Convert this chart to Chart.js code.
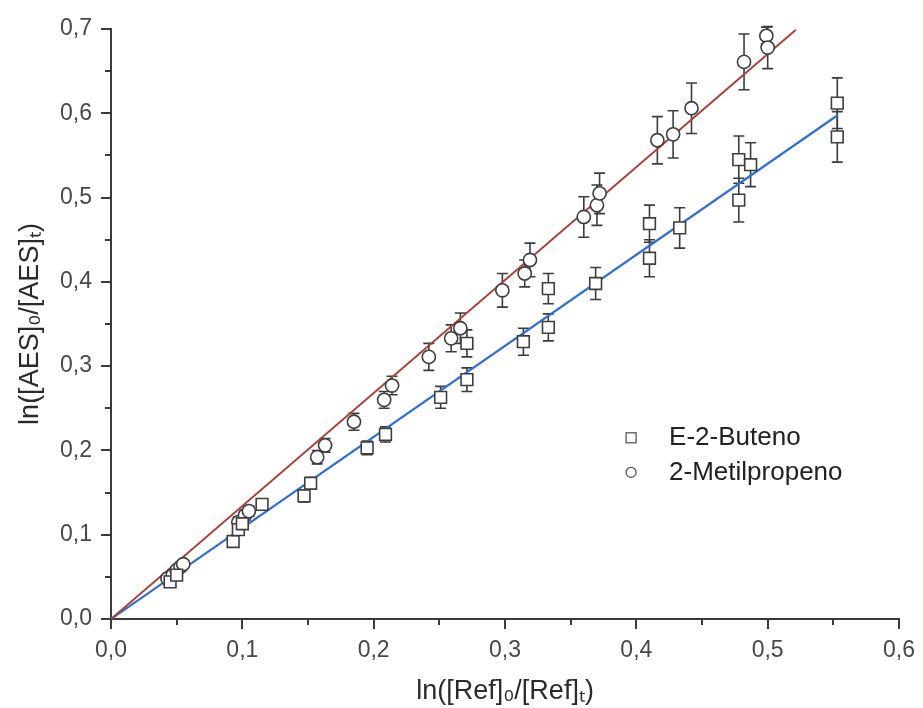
<!DOCTYPE html>
<html>
<head>
<meta charset="utf-8">
<script src="https://cdn.jsdelivr.net/npm/chart.js@4.4.1/dist/chart.umd.min.js"></script>
<style>
  html, body { margin: 0; padding: 0; background: #fff; }
  #wrap { width: 923px; height: 708px; }
</style>
</head>
<body>
<div id="wrap"><canvas id="c" width="923" height="708"></canvas></div>
<script>
// E-2-Buteno: x = ln([Ref]0/[Ref]t), y = ln([AES]0/[AES]t), e = error
const buteneX = [0.045, 0.050, 0.093, 0.097, 0.100, 0.115, 0.147, 0.152, 0.195, 0.209,
                 0.251, 0.271, 0.271, 0.314, 0.333, 0.333, 0.369, 0.410, 0.410, 0.433,
                 0.478, 0.478, 0.487, 0.553, 0.553];
const buteneY = [0.044, 0.052, 0.092, 0.106, 0.113, 0.136, 0.146, 0.161, 0.203, 0.219,
                 0.263, 0.284, 0.327, 0.329, 0.346, 0.392, 0.398, 0.428, 0.469, 0.464,
                 0.497, 0.545, 0.539, 0.572, 0.612];
const buteneErr = [0.004, 0.004, 0.005, 0.005, 0.005, 0.006, 0.007, 0.007, 0.008, 0.009,
                   0.013, 0.014, 0.016, 0.016, 0.016, 0.018, 0.019, 0.022, 0.022, 0.024,
                   0.026, 0.028, 0.026, 0.030, 0.030];

// 2-Metilpropeno
const methylX = [0.043, 0.047, 0.050, 0.053, 0.055, 0.097, 0.102, 0.105, 0.157, 0.163,
                 0.185, 0.208, 0.214, 0.242, 0.259, 0.266, 0.298, 0.315, 0.319, 0.360,
                 0.370, 0.372, 0.416, 0.428, 0.442, 0.482, 0.499, 0.500];
const methylY = [0.048, 0.052, 0.058, 0.062, 0.065, 0.115, 0.123, 0.128, 0.192, 0.206,
                 0.234, 0.260, 0.277, 0.311, 0.333, 0.345, 0.390, 0.410, 0.426, 0.477,
                 0.491, 0.505, 0.568, 0.575, 0.606, 0.661, 0.692, 0.678];
const methylErr = [0.004, 0.004, 0.004, 0.004, 0.004, 0.006, 0.006, 0.006, 0.008, 0.008,
                   0.010, 0.010, 0.011, 0.016, 0.016, 0.018, 0.020, 0.016, 0.020, 0.024,
                   0.024, 0.024, 0.028, 0.028, 0.030, 0.033, 0.010, 0.025];

// Linear fits through the origin (start and end points)
const buteneFitX = [0, 0.5535];
const buteneFitY = [0, 0.598];
const methylFitX = [0, 0.5215];
const methylFitY = [0, 0.699];

const seriesNames = ['E-2-Buteno', '2-Metilpropeno'];
const xTicks = [0, 0.1, 0.2, 0.3, 0.4, 0.5, 0.6];
const yTicks = [0, 0.1, 0.2, 0.3, 0.4, 0.5, 0.6, 0.7];

const toPoints = (xs, ys, es) => xs.map((x, i) => ({ x: x, y: ys[i], e: es ? es[i] : 0 }));
const fmt = v => v.toFixed(1).replace('.', ',');

const INK = '#3a3a3a';
const LABEL = '#474747';
const FONT = "'Liberation Sans', Arial, sans-serif";

// Vertical error bars with caps, drawn beneath the markers
const errorBars = {
  id: 'errorBars',
  beforeDatasetsDraw(chart) {
    const ctx = chart.ctx;
    const xs = chart.scales.x, ys = chart.scales.y;
    ctx.save();
    ctx.strokeStyle = '#3c3c3c';
    ctx.lineWidth = 1.6;
    chart.data.datasets.forEach(ds => {
      if (!ds.errorBars) return;
      ds.data.forEach(p => {
        if (!p.e) return;
        const px = xs.getPixelForValue(p.x);
        const top = ys.getPixelForValue(p.y + p.e);
        const bot = ys.getPixelForValue(p.y - p.e);
        const cap = 5.5;
        ctx.beginPath();
        ctx.moveTo(px, top); ctx.lineTo(px, bot);
        ctx.moveTo(px - cap, top); ctx.lineTo(px + cap, top);
        ctx.moveTo(px - cap, bot); ctx.lineTo(px + cap, bot);
        ctx.stroke();
      });
    });
    ctx.restore();
  }
};

// Minor ticks halfway between labelled ticks on both axes
const minorTicks = {
  id: 'minorTicks',
  afterDraw(chart) {
    const ctx = chart.ctx;
    const xs = chart.scales.x, ys = chart.scales.y;
    ctx.save();
    ctx.strokeStyle = INK;
    ctx.lineWidth = 2;
    ctx.beginPath();
    for (let i = 0; i < xTicks.length - 1; i++) {
      const v = (xTicks[i] + xTicks[i + 1]) / 2;
      const px = Math.round(xs.getPixelForValue(v));
      ctx.moveTo(px, ys.bottom); ctx.lineTo(px, ys.bottom + 6);
    }
    for (let i = 0; i < yTicks.length - 1; i++) {
      const v = (yTicks[i] + yTicks[i + 1]) / 2;
      const py = Math.round(ys.getPixelForValue(v));
      ctx.moveTo(xs.left, py); ctx.lineTo(xs.left - 6, py);
    }
    ctx.stroke();
    ctx.restore();
  }
};

// Legend placed inside the plot, lower right
const insideLegend = {
  id: 'insideLegend',
  afterDraw(chart) {
    const ctx = chart.ctx;
    const xs = chart.scales.x, ys = chart.scales.y;
    const x0 = xs.getPixelForValue(0.396);
    const rows = [ys.getPixelForValue(0.215), ys.getPixelForValue(0.174)];
    ctx.save();
    ctx.strokeStyle = '#555';
    ctx.lineWidth = 1.3;
    // square
    ctx.strokeRect(x0 - 5, rows[0] - 5, 10, 10);
    // circle
    ctx.beginPath();
    ctx.arc(x0, rows[1], 5, 0, Math.PI * 2);
    ctx.stroke();
    ctx.fillStyle = '#222';
    ctx.font = '26px ' + FONT;
    ctx.textBaseline = 'middle';
    ctx.textAlign = 'left';
    ctx.fillText(seriesNames[0], x0 + 38, rows[0]);
    ctx.fillText(seriesNames[1], x0 + 38, rows[1]);
    ctx.restore();
  }
};

new Chart(document.getElementById('c'), {
  type: 'scatter',
  data: {
    datasets: [
      {
        label: seriesNames[0],
        data: toPoints(buteneX, buteneY, buteneErr),
        errorBars: true,
        pointStyle: 'rect',
        pointRadius: 8.3,
        borderWidth: 1.6,
        borderColor: '#3e3e3e',
        backgroundColor: '#ffffff'
      },
      {
        label: seriesNames[1],
        data: toPoints(methylX, methylY, methylErr),
        errorBars: true,
        pointStyle: 'circle',
        pointRadius: 6.6,
        borderWidth: 1.6,
        borderColor: '#3e3e3e',
        backgroundColor: '#ffffff'
      },
      {
        type: 'line',
        label: 'fit ' + seriesNames[1],
        data: toPoints(methylFitX, methylFitY),
        borderColor: '#a9433a',
        borderWidth: 2,
        pointRadius: 0,
        fill: false
      },
      {
        type: 'line',
        label: 'fit ' + seriesNames[0],
        data: toPoints(buteneFitX, buteneFitY),
        borderColor: '#2f6fd3',
        borderWidth: 2.2,
        pointRadius: 0,
        fill: false
      }
    ]
  },
  options: {
    responsive: false,
    animation: false,
    layout: { padding: { left: 0, right: 20, top: 29, bottom: 0 } },
    plugins: {
      legend: { display: false },
      tooltip: { enabled: false }
    },
    scales: {
      x: {
        type: 'linear',
        min: 0, max: 0.6,
        afterFit: s => { s.height = 89; },
        afterBuildTicks: s => { s.ticks = xTicks.map(v => ({ value: v })); },
        ticks: {
          callback: v => fmt(v),
          color: LABEL,
          font: { family: FONT, size: 23 },
          padding: 8,
          maxRotation: 0
        },
        grid: { drawOnChartArea: false, drawTicks: true, tickLength: 10, color: INK, lineWidth: 2 },
        border: { display: true, color: INK, width: 2 },
        title: {
          display: true,
          text: 'ln([Ref]₀/[Ref]ₜ)',
          color: '#2a2a2a',
          font: { family: FONT, size: 27 },
          padding: { top: 0, bottom: 0 }
        }
      },
      y: {
        type: 'linear',
        min: 0, max: 0.7,
        afterFit: s => { s.width = 111; },
        afterBuildTicks: s => { s.ticks = yTicks.map(v => ({ value: v })); },
        ticks: {
          callback: v => fmt(v),
          color: LABEL,
          font: { family: FONT, size: 23 },
          padding: 9
        },
        grid: { drawOnChartArea: false, drawTicks: true, tickLength: 10, color: INK, lineWidth: 2 },
        border: { display: true, color: INK, width: 2 },
        title: {
          display: true,
          text: 'ln([AES]₀/[AES]ₜ)',
          color: '#2a2a2a',
          font: { family: FONT, size: 27 },
          padding: { top: 14, bottom: 0 }
        }
      }
    }
  },
  plugins: [errorBars, minorTicks, insideLegend]
});
</script>
</body>
</html>
